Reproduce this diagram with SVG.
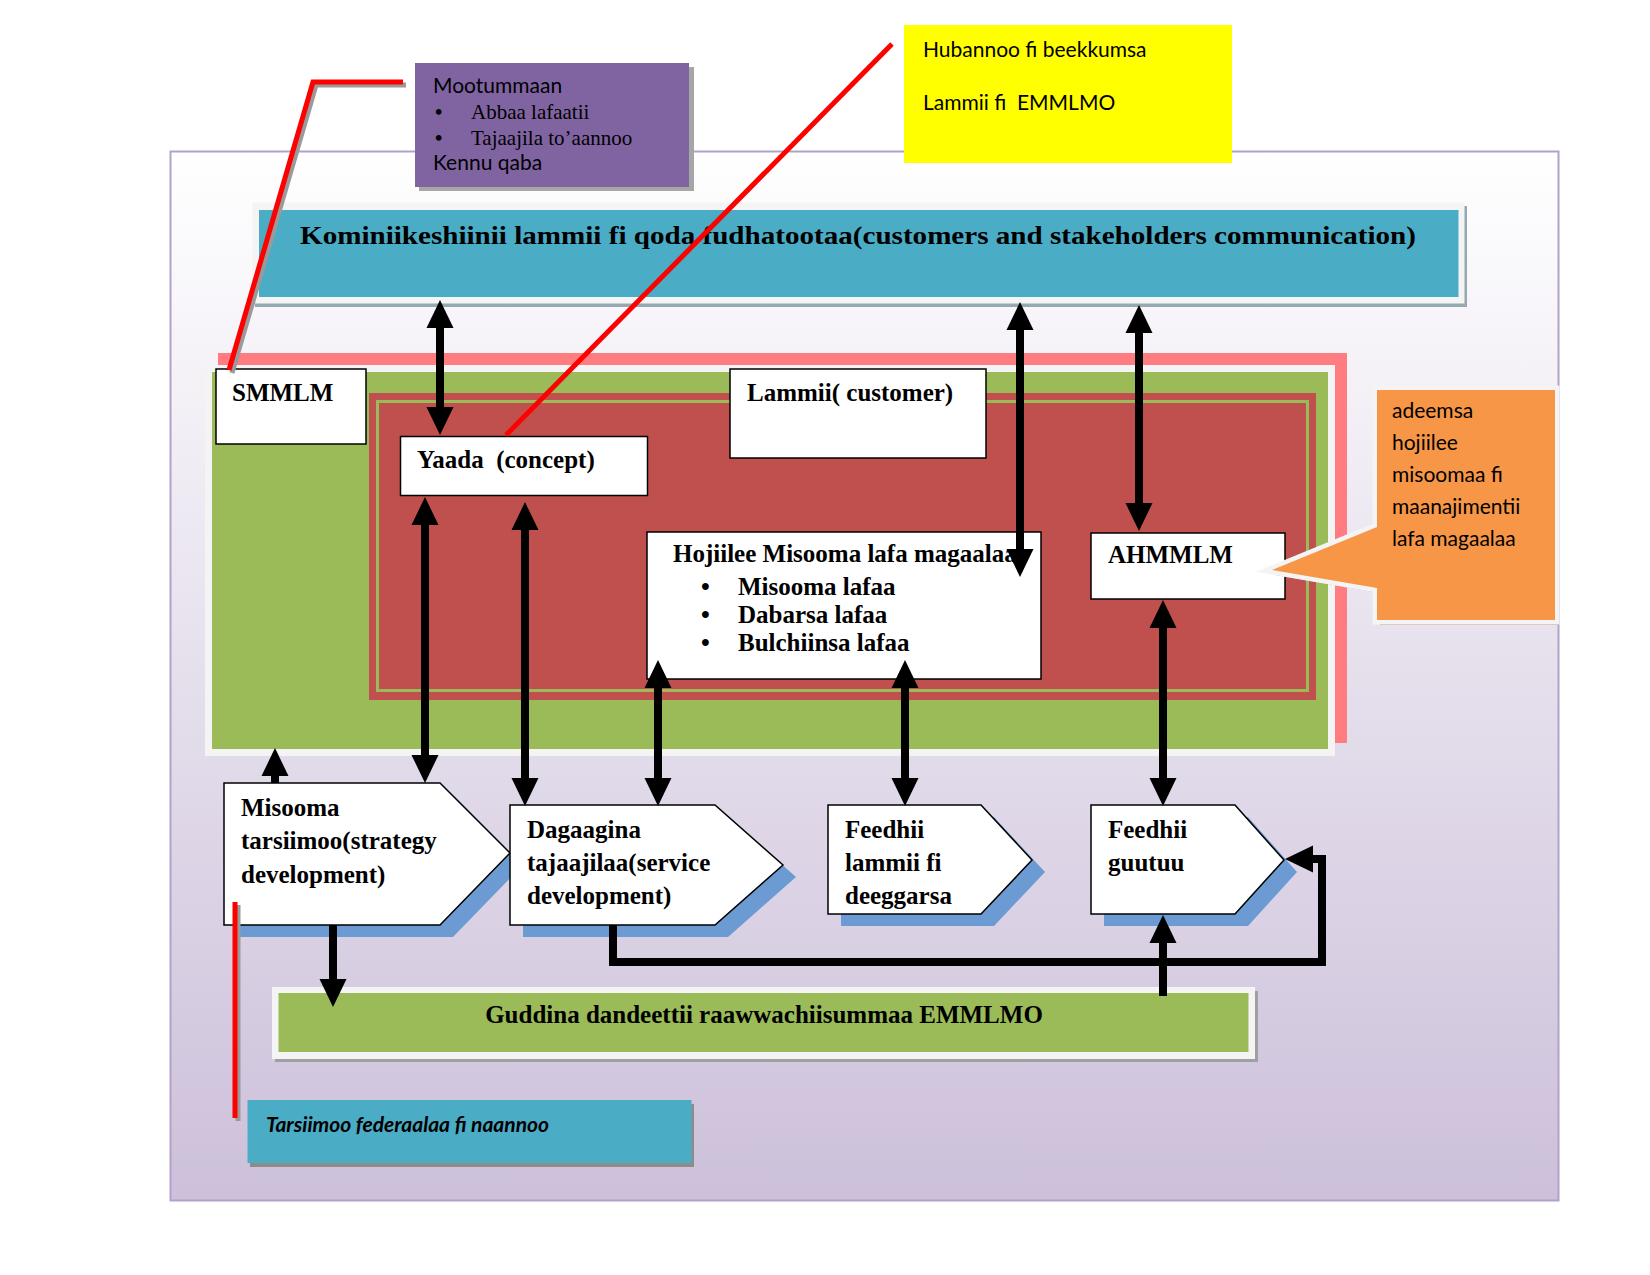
<svg xmlns="http://www.w3.org/2000/svg" width="1650" height="1275" viewBox="0 0 1650 1275">
<defs>
<linearGradient id="bg" x1="0" y1="0" x2="0" y2="1">
<stop offset="0" stop-color="#ffffff"/>
<stop offset="1" stop-color="#ccc0da"/>
</linearGradient>
<marker id="ah" markerUnits="userSpaceOnUse" markerWidth="28" markerHeight="28" refX="1" refY="14" orient="auto-start-reverse" viewBox="0 0 28 28">
<path d="M0,0.5 L28,14 L0,27.5 z" fill="#000"/>
</marker>
</defs>
<style>
.sb{font-family:"Liberation Serif","Times New Roman",serif;font-weight:bold;font-size:25px;fill:#000}
.sr{font-family:"Liberation Serif","Times New Roman",serif;font-size:21px;fill:#000}
.bul{font-family:"Liberation Serif","Times New Roman",serif;font-weight:bold;font-size:21px;fill:#000}
.cal{font-family:Lato,"Open Sans",sans-serif;font-size:21px;fill:#000}
.box{fill:#fff;stroke:#000;stroke-width:1.5}
.chev{fill:#fff;stroke:#000;stroke-width:1.5}
.chsh{fill:#6b9bd2}
.conn{fill:none;stroke:#000;stroke-width:8}
.red{fill:none;stroke:#ff0000;stroke-width:5}
.redsh{fill:none;stroke:#9a9a9a;stroke-width:5}
</style>

<g id="background">
<rect x="170.5" y="151.5" width="1388" height="1049" fill="url(#bg)" stroke="#b2a2c7" stroke-width="2"/>
</g>

<g id="mootummaan">
<rect x="419" y="67" width="275" height="124" fill="#a6a6a6"/>
<rect x="415" y="63" width="274" height="124" fill="#8064a2"/>
<text class="cal" x="433" y="93" font-size="18.5">Mootummaan</text>
<text class="bul" x="435" y="119">•</text>
<text class="sr" x="471" y="119">Abbaa lafaatii</text>
<text class="bul" x="435" y="145">•</text>
<text class="sr" x="471" y="145">Tajaajila to’aannoo</text>
<text class="cal" x="433" y="170" font-size="18.5">Kennu qaba</text>
</g>

<g id="hubannoo">
<rect x="904" y="25" width="328" height="138" fill="#ffff00"/>
<text class="cal" x="923" y="57">Hubannoo fi beekkumsa</text>
<text class="cal" x="923" y="110" xml:space="preserve">Lammii fi  EMMLMO</text>
</g>

<g id="kominiikeshiinii">
<rect x="255" y="206" width="1212" height="101" fill="#95a9b0"/>
<rect x="252.5" y="202.5" width="1212" height="101" fill="#f4f4f4"/>
<rect x="259" y="210" width="1199.5" height="87" fill="#4bacc6"/>
<text class="sb" x="300" y="244" font-size="28" textLength="1116" lengthAdjust="spacingAndGlyphs">Kominiikeshiinii lammii fi qoda fudhatootaa(customers and stakeholders communication)</text>
</g>

<g id="frames">
<rect x="218" y="353" width="1129" height="390" fill="#ff7c80"/>
<rect x="205" y="365" width="1130" height="391" fill="#f4f4f4"/>
<rect x="212" y="372" width="1116" height="377" fill="#9bbb59"/>
<rect x="369" y="393" width="947" height="307" fill="#c0504d"/>
<rect x="377.5" y="401.5" width="930" height="289" fill="none" stroke="#9bbb59" stroke-width="3"/>
</g>

<g id="smmlm">
<rect class="box" x="216" y="369" width="150" height="75"/>
<text class="sb" x="232" y="401">SMMLM</text>
</g>

<g id="yaada">
<rect class="box" x="400.5" y="436.5" width="247" height="59"/>
<text class="sb" x="417" y="468" xml:space="preserve">Yaada  (concept)</text>
</g>

<g id="lammii">
<rect class="box" x="730" y="369" width="256" height="89"/>
<text class="sb" x="747" y="401">Lammii( customer)</text>
</g>

<g id="hojiilee">
<rect class="box" x="647" y="532" width="394" height="147"/>
<text class="sb" x="673" y="562">Hojiilee Misooma lafa magaalaa</text>
<text class="sb" x="701" y="595">•</text>
<text class="sb" x="738" y="595">Misooma lafaa</text>
<text class="sb" x="701" y="623">•</text>
<text class="sb" x="738" y="623">Dabarsa lafaa</text>
<text class="sb" x="701" y="651">•</text>
<text class="sb" x="738" y="651">Bulchiinsa lafaa</text>
</g>

<g id="ahmmlm">
<rect class="box" x="1091" y="533" width="194" height="66"/>
<text class="sb" x="1108" y="563">AHMMLM</text>
</g>

<g id="adeemsa">
<path d="M1380,395 H1559 V625 H1380 V593 L1275,575 L1380,532 Z" fill="#c4a489"/>
<path d="M1377,390 H1555 V620 H1377 V588 L1272,570 L1377,527 Z" fill="#f4f4f4" stroke="#f4f4f4" stroke-width="9" stroke-linejoin="miter"/>
<path d="M1377,390 H1555 V620 H1377 V588 L1272,570 L1377,527 Z" fill="#f79646"/>
<text class="cal" x="1392" y="418" font-size="22">adeemsa</text>
<text class="cal" x="1392" y="450" font-size="22">hojiilee</text>
<text class="cal" x="1392" y="482" font-size="22">misoomaa fi</text>
<text class="cal" x="1392" y="514" font-size="22">maanajimentii</text>
<text class="cal" x="1392" y="546" font-size="22">lafa magaalaa</text>
</g>

<g id="misooma">
<path class="chsh" d="M237,795 L453,795 L523,865 L453,937 L237,937 Z"/>
<path class="chev" d="M224,783 L440,783 L510,853 L440,925 L224,925 Z"/>
<text class="sb" x="241" y="816">Misooma</text>
<text class="sb" x="241" y="849">tarsiimoo(strategy</text>
<text class="sb" x="241" y="883">development)</text>
</g>

<g id="dagaagina">
<path class="chsh" d="M523,817 L728,817 L796,877 L728,937 L523,937 Z"/>
<path class="chev" d="M510,805 L715,805 L783,865 L715,925 L510,925 Z"/>
<text class="sb" x="527" y="838">Dagaagina</text>
<text class="sb" x="527" y="871">tajaajilaa(service</text>
<text class="sb" x="527" y="904">development)</text>
</g>

<g id="feedhii-lammii">
<path class="chsh" d="M841,817 L994,817 L1045,872 L994,926 L841,926 Z"/>
<path class="chev" d="M828,805 L981,805 L1032,860 L981,914 L828,914 Z"/>
<text class="sb" x="845" y="838">Feedhii</text>
<text class="sb" x="845" y="871">lammii fi</text>
<text class="sb" x="845" y="904">deeggarsa</text>
</g>

<g id="feedhii-guutuu">
<path class="chsh" d="M1104,817 L1248,817 L1297,872 L1248,926 L1104,926 Z"/>
<path class="chev" d="M1091,805 L1235,805 L1284,860 L1235,914 L1091,914 Z"/>
<text class="sb" x="1108" y="838">Feedhii</text>
<text class="sb" x="1108" y="871">guutuu</text>
</g>

<g id="guddina">
<rect x="275" y="991" width="983" height="71" fill="#a0a0a0"/>
<rect x="272" y="987" width="983" height="72" fill="#f4f4f4"/>
<rect x="278.5" y="993" width="970" height="59" fill="#9bbb59"/>
<text class="sb" x="764" y="1023" text-anchor="middle">Guddina dandeettii raawwachiisummaa EMMLMO</text>
</g>

<g id="tarsiimoo">
<rect x="250" y="1104" width="444" height="63" fill="#8c8c8c"/>
<rect x="247.5" y="1100" width="444" height="63" fill="#4bacc6"/>
<text class="cal" x="266" y="1132" font-size="23" font-style="italic" font-weight="bold">Tarsiimoo federaalaa fi naannoo</text>
</g>

<g id="connectors">
<line class="conn" x1="440" y1="327" x2="440" y2="408" marker-start="url(#ah)" marker-end="url(#ah)"/>
<line class="conn" x1="1020" y1="329" x2="1020" y2="550" marker-start="url(#ah)" marker-end="url(#ah)"/>
<line class="conn" x1="1139" y1="332" x2="1139" y2="504" marker-start="url(#ah)" marker-end="url(#ah)"/>
<line class="conn" x1="425" y1="524" x2="425" y2="756" marker-start="url(#ah)" marker-end="url(#ah)"/>
<line class="conn" x1="525" y1="529" x2="525" y2="779" marker-start="url(#ah)" marker-end="url(#ah)"/>
<line class="conn" x1="658" y1="687" x2="658" y2="779" marker-start="url(#ah)" marker-end="url(#ah)"/>
<line class="conn" x1="905" y1="687" x2="905" y2="779" marker-start="url(#ah)" marker-end="url(#ah)"/>
<line class="conn" x1="1163" y1="627" x2="1163" y2="779" marker-start="url(#ah)" marker-end="url(#ah)"/>
<line class="conn" x1="275" y1="783" x2="275" y2="775" marker-end="url(#ah)"/>
<line class="conn" x1="333" y1="925" x2="333" y2="980" marker-end="url(#ah)"/>
<line class="conn" x1="1163" y1="996" x2="1163" y2="942" marker-end="url(#ah)"/>
<polyline class="conn" points="613,925 613,962 1322,962 1322,859 1312,859" marker-end="url(#ah)"/>
</g>

<g id="callout-lines">
<polyline class="redsh" points="406,85 316,85 232,373"/>
<polyline class="red" points="403,82 313,82 229,370"/>
<line class="red" x1="892" y1="44" x2="506" y2="435"/>
<line class="redsh" x1="238" y1="905" x2="238" y2="1121"/>
<line class="red" x1="235" y1="902" x2="235" y2="1118"/>
</g>
</svg>
